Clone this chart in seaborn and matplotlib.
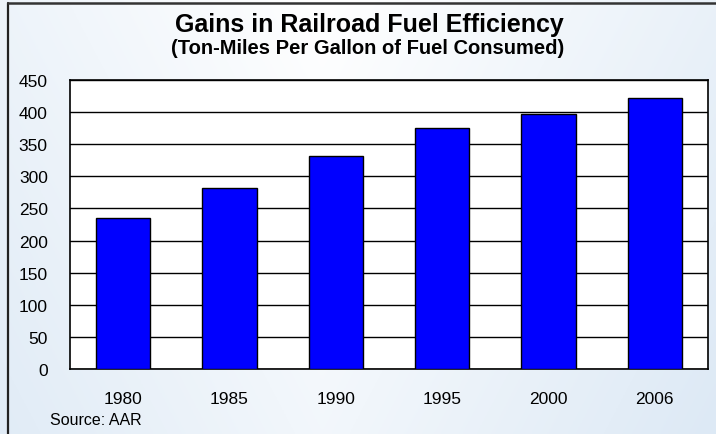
import numpy as np
import pandas as pd
import matplotlib
matplotlib.use("Agg")
import matplotlib.pyplot as plt
import seaborn as sns

years = ["1980", "1985", "1990", "1995", "2000", "2006"]
ton_miles = [235, 282, 332, 375, 397, 422]
y_ticks = [0, 50, 100, 150, 200, 250, 300, 350, 400, 450]

sns.set_theme(style="white")
plt.rcParams['font.family'] = ['Liberation Sans', 'DejaVu Sans']

fig = plt.figure(figsize=(7.16, 4.35), dpi=100)

# background gradient
bg = fig.add_axes([0, 0, 1, 1], zorder=-10)
bg.set_axis_off()
xx, yy = np.meshgrid(np.linspace(0, 1, 300), np.linspace(0, 1, 200))
val = np.clip(0.55 * np.abs(xx - 0.45) * 2 + 0.35 * yy, 0, 1)
white = np.array([1.0, 1.0, 1.0])
blue = np.array([0.86, 0.91, 0.96])
img = white[None, None, :] * (1 - val[..., None]) + blue[None, None, :] * val[..., None]
bg.imshow(img, aspect='auto', extent=[0, 1, 0, 1], origin='upper')
bg.set_xlim(0, 1)
bg.set_ylim(0, 1)
# outer frame lines (left and top)
bg.plot([8/716, 8/716], [0, 1 - 4/435], color='#222222', lw=1.6)
bg.plot([8/716, 1], [1 - 4/435, 1 - 4/435], color='#333333', lw=1.8)

ax = fig.add_axes([70/716, 65/435, 638/716, 289/435])
ax.set_facecolor('white')
df = pd.DataFrame({"year": years, "value": ton_miles})
sns.barplot(data=df, x="year", y="value", color="#0000FF", saturation=1,
            edgecolor="black", linewidth=1, width=0.51, ax=ax, zorder=3)
ax.set_ylim(0, 450)
ax.set_yticks(y_ticks)
ax.set_yticklabels([str(t) for t in y_ticks])
ax.yaxis.grid(True, color='black', linewidth=1, zorder=0)
ax.set_axisbelow(True)
ax.set_xlabel("")
ax.set_ylabel("")
for s in ax.spines.values():
    s.set_color('black')
    s.set_linewidth(1.2)
    s.set_visible(True)
ax.tick_params(axis='y', length=0, pad=16, labelsize=12.5, colors='black')
ax.tick_params(axis='x', length=0, pad=16, labelsize=12.5, colors='black')

fig.text(369/716, 1 - 25/435, "Gains in Railroad Fuel Efficiency", ha='center', va='center',
         fontsize=18, fontweight='bold', color='black')
fig.text(368/716, 1 - 48/435, "(Ton-Miles Per Gallon of Fuel Consumed)", ha='center', va='center',
         fontsize=14.5, fontweight='bold', color='black')
fig.text(50/716, 1 - 421/435, "Source: AAR", ha='left', va='center', fontsize=11.5, color='black')

fig.savefig("out.png", dpi=100)
